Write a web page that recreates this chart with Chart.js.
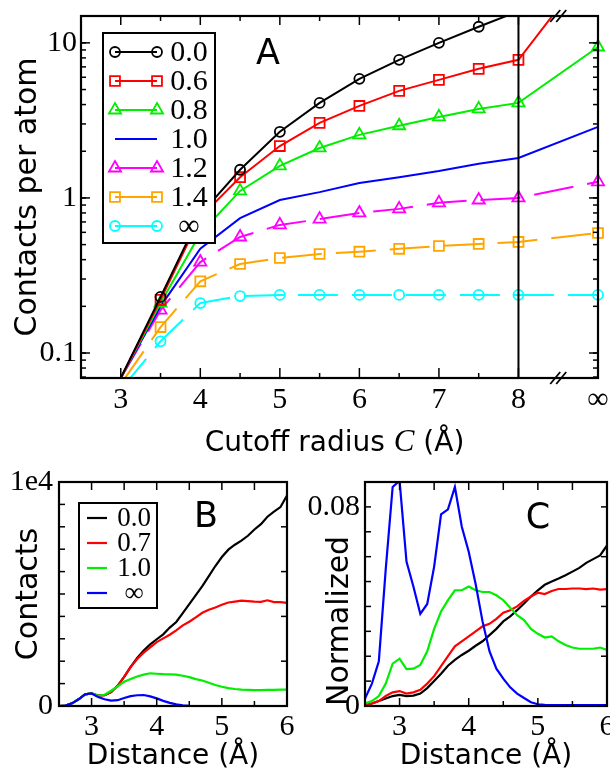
<!DOCTYPE html>
<html><head><meta charset="utf-8">
<script src="https://cdn.jsdelivr.net/npm/chart.js@4/dist/chart.umd.min.js"></script>
<style>
html,body{margin:0;padding:0;background:#fff;}
#wrap{position:relative;width:610px;height:777px;overflow:hidden;background:#fff;}
canvas{position:absolute;}
</style></head><body>
<div id="wrap">
<canvas id="cA" width="610" height="470" style="left:0;top:0;width:610px;height:470px"></canvas>
<canvas id="cB" width="300" height="307" style="left:0;top:470px;width:300px;height:307px"></canvas>
<canvas id="cC" width="310" height="307" style="left:300px;top:470px;width:310px;height:307px"></canvas>
</div>
<script>
// ---------------- Panel A data ----------------
// x positions of the cutoff radii; the last one (9) is where "∞" sits on the axis
const cutoffPositions = [3, 3.5, 4, 4.5, 5, 5.5, 6, 6.5, 7, 7.5, 8, 9];
const cutoffTickValues = [3, 4, 5, 6, 7, 8, 9];
const cutoffTickLabels = ['3', '4', '5', '6', '7', '8', '∞'];
const contactsTickValues = [0.1, 1, 10];
const contactsTickLabels = ['0.1', '1', '10'];
const seriesLabelsA = ['0.0', '0.6', '0.8', '1.0', '1.2', '1.4', '∞'];
const a00 = [0.069, 0.23, 0.78, 1.52, 2.67, 4.1, 5.86, 7.77, 10.0, 12.7, 16.0, 40];
const a06 = [0.069, 0.22, 0.75, 1.36, 2.16, 3.05, 3.92, 4.9, 5.77, 6.8, 7.77, 36];
const a08 = [0.069, 0.21, 0.59, 1.11, 1.61, 2.1, 2.55, 2.92, 3.33, 3.75, 4.1, 9.4];
const a10 = [0.069, 0.20, 0.47, 0.74, 0.97, 1.09, 1.25, 1.36, 1.49, 1.66, 1.81, 2.87];
const a12 = [0.069, 0.189, 0.386, 0.56, 0.67, 0.73, 0.80, 0.85, 0.93, 0.97, 1.0, 1.27];
const a14 = [0.063, 0.147, 0.29, 0.375, 0.41, 0.435, 0.45, 0.47, 0.49, 0.505, 0.52, 0.594];
const aInf = [0.058, 0.119, 0.21, 0.233, 0.237, 0.237, 0.237, 0.237, 0.237, 0.237, 0.237, 0.237];
const cutoffMarkerLine = 8;   // vertical line at C = 8 Å
const axisBreakAt = 8.5;      // "//" axis break between 8 and ∞

// ---------------- Panels B and C data ----------------
const distances = [2.5,2.6,2.7,2.8,2.9,3.0,3.1,3.2,3.3,3.4,3.5,3.6,3.7,3.8,3.9,4.0,4.1,4.2,4.3,4.4,4.5,4.6,4.7,4.8,4.9,5.0,5.1,5.2,5.3,5.4,5.5,5.6,5.7,5.8,5.9,6.0];
const distTickValues = [3, 4, 5, 6];
const seriesLabelsBC = ['0.0', '0.7', '1.0', '∞'];
const bBlack = [0,20,120,300,520,560,470,480,620,900,1300,1750,2150,2480,2750,2980,3200,3500,3750,4150,4550,4950,5350,5800,6250,6650,6980,7200,7380,7600,7880,8120,8450,8680,8880,9400];
const bRed   = [0,20,120,300,520,560,470,480,620,900,1300,1740,2100,2380,2620,2850,3020,3180,3380,3600,3760,3960,4160,4300,4400,4520,4620,4660,4700,4680,4660,4650,4720,4640,4640,4600];
const bGreen = [0,20,120,300,520,560,470,500,680,880,1080,1210,1320,1400,1460,1440,1420,1410,1400,1350,1290,1200,1140,1040,940,860,800,760,730,720,710,710,720,720,730,730];
const bBlue  = [0,20,120,300,520,560,400,300,240,260,360,440,480,490,430,340,230,140,70,30,10,0,0,0,0,0,0,0,0,0,0,0,0,0,0,0];
const contactsBTicks = [0, 10000];
const contactsBLabels = ['0', '1e4'];
const cBlack = [0.0005,0.001,0.002,0.003,0.004,0.0045,0.004,0.0042,0.005,0.0072,0.010,0.013,0.0162,0.0185,0.0205,0.0222,0.0242,0.026,0.0285,0.031,0.034,0.036,0.0385,0.0412,0.044,0.0465,0.0487,0.050,0.0512,0.0525,0.054,0.0555,0.0575,0.059,0.0605,0.0645];
const cRed   = [0.0005,0.001,0.002,0.004,0.0055,0.006,0.005,0.0055,0.0065,0.009,0.012,0.016,0.020,0.024,0.026,0.028,0.030,0.032,0.033,0.035,0.0375,0.0385,0.040,0.0422,0.044,0.0455,0.045,0.0462,0.047,0.047,0.0472,0.0472,0.047,0.0472,0.0468,0.047];
const cGreen = [0.001,0.002,0.004,0.009,0.017,0.019,0.0148,0.015,0.0165,0.022,0.031,0.038,0.0425,0.0465,0.0465,0.048,0.0465,0.0458,0.0458,0.0445,0.0425,0.0395,0.0365,0.0345,0.031,0.029,0.0275,0.028,0.026,0.0245,0.0235,0.023,0.023,0.023,0.0235,0.0225];
const cBlue  = [0.003,0.009,0.018,0.055,0.088,0.0905,0.058,0.048,0.037,0.041,0.056,0.077,0.079,0.088,0.072,0.062,0.049,0.034,0.022,0.015,0.011,0.0075,0.005,0.0032,0.0015,0.0007,0.0005,0.0004,0.0004,0.0004,0.0004,0.0004,0.0004,0.0004,0.0004,0.0004];
const normTicks = [0, 0.08];
const normLabels = ['0', '0.08'];

// ---------------- helpers ----------------
const SERIF = 'Liberation Serif';
const SANS = 'DejaVu Sans';
Chart.defaults.animation = false;
Chart.defaults.color = '#000';
Chart.defaults.font.family = SERIF;
Chart.defaults.plugins.legend.display = false;
Chart.defaults.plugins.tooltip.enabled = false;
Chart.defaults.events = [];

const pts = (xs, ys) => ys.map((y, i) => ({x: xs[i], y}));
function range(a, b, s) { const r = []; for (let v = a; v <= b + 1e-9; v += s) r.push(+v.toFixed(4)); return r; }
function logMinors(lo, hi) { const r = []; for (let d = 0.01; d <= 10; d *= 10) for (let k = 1; k <= 9; k++) { const v = +(k * d).toPrecision(3); if (v >= lo && v <= hi) r.push(v); } return r; }

function marker(ctx, style, x, y, r) {
  ctx.beginPath();
  if (style === 'circle') ctx.arc(x, y, r, 0, Math.PI * 2);
  else if (style === 'rect') { const s = r * Math.SQRT1_2; ctx.rect(x - s, y - s, 2 * s, 2 * s); }
  else if (style === 'triangle') {
    ctx.moveTo(x, y - r);
    ctx.lineTo(x + r * Math.sin(Math.PI * 2 / 3), y - r * Math.cos(Math.PI * 2 / 3));
    ctx.lineTo(x + r * Math.sin(Math.PI * 4 / 3), y - r * Math.cos(Math.PI * 4 / 3));
    ctx.closePath();
  }
  ctx.stroke();
}

// frame, inward tick marks, axis break, boxed legend, panel letter, mixed-font axis title
const deco = {
  id: 'deco',
  afterDatasetsDraw(chart, args, o) {
    const {ctx, chartArea: ca} = chart;
    ctx.save();
    ctx.strokeStyle = '#000';
    ctx.lineWidth = 1.5;
    (o.ticks || []).forEach(t => {
      const sc = chart.scales[t.scale];
      [[t.major || [], t.majorLen], [t.minor || [], t.minorLen]].forEach(([vals, len]) => {
        vals.forEach(v => {
          const p = sc.getPixelForValue(v);
          ctx.beginPath();
          if (t.side === 'bottom') { ctx.moveTo(p, ca.bottom); ctx.lineTo(p, ca.bottom - len); }
          if (t.side === 'top') { ctx.moveTo(p, ca.top); ctx.lineTo(p, ca.top + len); }
          if (t.side === 'left') { ctx.moveTo(ca.left, p); ctx.lineTo(ca.left + len, p); }
          if (t.side === 'right') { ctx.moveTo(ca.right, p); ctx.lineTo(ca.right - len, p); }
          ctx.stroke();
        });
      });
    });
    ctx.lineWidth = 2.2;
    ctx.strokeRect(ca.left, ca.top, ca.right - ca.left, ca.bottom - ca.top);
    if (o.breakAt !== undefined) {
      const p = chart.scales.x.getPixelForValue(o.breakAt);
      ctx.lineWidth = 1.8;
      [ca.top, ca.bottom].forEach(yy => {
        [-3, 3].forEach(d => { ctx.beginPath(); ctx.moveTo(p + d - 5, yy + 6); ctx.lineTo(p + d + 5, yy - 6); ctx.stroke(); });
      });
    }
    const L = o.legend;
    if (L) {
      ctx.fillStyle = '#fff';
      ctx.fillRect(L.x, L.y, L.w, L.h);
      ctx.lineWidth = 2;
      ctx.strokeStyle = '#000';
      ctx.strokeRect(L.x, L.y, L.w, L.h);
      L.items.forEach((it, i) => {
        const ds = chart.data.datasets[it.ds];
        const y = L.row0 + i * L.rowH;
        ctx.strokeStyle = ds.borderColor;
        ctx.lineWidth = ds.borderWidth;
        ctx.setLineDash([]);
        ctx.beginPath();
        ctx.moveTo(L.x1, y); ctx.lineTo(L.x2, y); ctx.stroke();
        if (ds.markerStyle) {
          ctx.lineWidth = ds.pointBorderWidth;
          marker(ctx, ds.markerStyle, L.x1, y, ds.markerRadius);
          marker(ctx, ds.markerStyle, L.x2, y, ds.markerRadius);
        }
        ctx.fillStyle = '#000';
        ctx.font = L.font;
        ctx.textAlign = 'center';
        ctx.textBaseline = 'middle';
        ctx.fillText(it.label, L.tx, y + 1);
      });
    }
    if (o.letter) {
      ctx.fillStyle = '#000';
      ctx.font = o.letter.font;
      ctx.textAlign = 'center';
      ctx.textBaseline = 'middle';
      ctx.fillText(o.letter.text, o.letter.x, o.letter.y);
    }
    if (o.xTitle) {
      const T = o.xTitle;
      ctx.fillStyle = '#000';
      ctx.textBaseline = 'alphabetic';
      ctx.textAlign = 'left';
      const widths = T.parts.map(p => { ctx.font = p.font; return ctx.measureText(p.text).width; });
      let x = (ca.left + ca.right) / 2 - widths.reduce((a, b) => a + b, 0) / 2 + (T.dx || 0);
      T.parts.forEach((p, i) => { ctx.font = p.font; ctx.fillText(p.text, x, T.baseline); x += widths[i]; });
    }
    ctx.restore();
  }
};

function fitY(w) { return s => { s.width = w; s.paddingTop = 0; s.paddingBottom = 0; }; }
function fitX(h) { return s => { s.height = h; s.paddingLeft = 0; s.paddingRight = 0; }; }
function setTicks(vals) { return s => { s.ticks = vals.map(v => ({value: v})); }; }

// ---------------- Panel A ----------------
function lineSetA(label, data, color, style, radius, dash) {
  return {
    label, data: pts(cutoffPositions, data),
    borderColor: color, backgroundColor: color, borderWidth: 2,
    borderDash: dash || [],
    pointStyle: style || 'circle', markerStyle: style, markerRadius: radius,
    pointRadius: c => (style && c.dataIndex > 0) ? radius : 0,
    pointBorderColor: color, pointBackgroundColor: 'rgba(0,0,0,0)', pointBorderWidth: 1.8,
    tension: 0, clip: {left: 0, top: 0, right: 9, bottom: 0}
  };
}
const DASH = [40, 14];
const yMinA = 0.069, yMaxA = 14.9;
new Chart(document.getElementById('cA'), {
  type: 'line',
  data: {
    datasets: [
      lineSetA(seriesLabelsA[0], a00, '#000000', 'circle', 5),
      lineSetA(seriesLabelsA[1], a06, '#ff0000', 'rect', 7),
      lineSetA(seriesLabelsA[2], a08, '#00ee00', 'triangle', 7),
      lineSetA(seriesLabelsA[3], a10, '#0000ff', null, 0),
      lineSetA(seriesLabelsA[4], a12, '#ff00ff', 'triangle', 7, DASH),
      lineSetA(seriesLabelsA[5], a14, '#ffa500', 'rect', 7, DASH),
      lineSetA(seriesLabelsA[6], aInf, '#00ffff', 'circle', 5, DASH),
      {label: 'C = 8', data: [{x: cutoffMarkerLine, y: yMinA}, {x: cutoffMarkerLine, y: yMaxA}],
       borderColor: '#000', borderWidth: 2, pointRadius: 0, order: -1}
    ]
  },
  options: {
    responsive: false, maintainAspectRatio: false,
    layout: {padding: {top: 16, right: 12, left: 0, bottom: 0}},
    scales: {
      x: {
        type: 'linear', min: 2.5, max: 9,
        afterBuildTicks: setTicks(cutoffTickValues), afterFit: fitX(92),
        grid: {display: false}, border: {display: false},
        ticks: {font: {family: SERIF, size: 30}, padding: -4, maxRotation: 0, autoSkip: false,
                callback: (v, i) => cutoffTickLabels[i]},
        title: {display: false}
      },
      y: {
        type: 'logarithmic', min: yMinA, max: yMaxA,
        afterBuildTicks: setTicks(contactsTickValues), afterFit: fitY(81),
        grid: {display: false}, border: {display: false},
        ticks: {font: {family: SERIF, size: 30}, padding: -4, autoSkip: false,
                callback: (v, i) => contactsTickLabels[i]},
        title: {display: true, text: 'Contacts per atom', font: {family: SANS, size: 30}, padding: {top: 10, bottom: 0}}
      }
    },
    plugins: {
      deco: {
        ticks: [
          {scale: 'x', side: 'bottom', major: range(3, 8, 1), minor: range(3.5, 7.5, 1), majorLen: 10, minorLen: 5},
          {scale: 'x', side: 'top', major: range(3, 8, 1), minor: range(3.5, 7.5, 1), majorLen: 9, minorLen: 5},
          {scale: 'y', side: 'left', major: contactsTickValues, minor: logMinors(yMinA, yMaxA), majorLen: 9, minorLen: 5},
          {scale: 'y', side: 'right', major: contactsTickValues, minor: logMinors(yMinA, yMaxA), majorLen: 9, minorLen: 5}
        ],
        breakAt: axisBreakAt,
        legend: {
          x: 103, y: 33, w: 112, h: 210, row0: 52, rowH: 29, x1: 115, x2: 157, tx: 189,
          font: '30px "' + SERIF + '"',
          items: seriesLabelsA.map((l, i) => ({ds: i, label: l}))
        },
        letter: {text: 'A', x: 268, y: 55, font: '35px "' + SANS + '"'},
        xTitle: {
          baseline: 451, dx: -5,
          parts: [
            {text: 'Cutoff radius ', font: '28px "' + SANS + '"'},
            {text: 'C', font: 'italic 31px "' + SERIF + '"'},
            {text: ' (Å)', font: '28px "' + SANS + '"'}
          ]
        }
      }
    }
  },
  plugins: [deco]
});

// ---------------- Panels B and C ----------------
function lineSetBC(label, data, color, order) {
  return {label, data: pts(distances, data), borderColor: color, borderWidth: 2.2, pointRadius: 0, tension: 0, order};
}
function bcOptions(o) {
  return {
    responsive: false, maintainAspectRatio: false,
    layout: {padding: {top: 12, right: o.padRight, left: 0, bottom: 0}},
    scales: {
      x: {
        type: 'linear', min: 2.5, max: 6,
        afterBuildTicks: setTicks(distTickValues), afterFit: fitX(71),
        grid: {display: false}, border: {display: false},
        ticks: {font: {family: SERIF, size: 30}, padding: -5, maxRotation: 0, autoSkip: false},
        title: {display: true, text: 'Distance (Å)', font: {family: SANS, size: 28}, padding: {top: 0, bottom: 3}}
      },
      y: {
        type: 'linear', min: o.yMin, max: o.yMax,
        afterBuildTicks: setTicks(o.yTicks), afterFit: fitY(o.yWidth),
        grid: {display: false}, border: {display: false},
        ticks: {font: {family: SERIF, size: 30}, padding: o.yPad, autoSkip: false, callback: (v, i) => o.yLabels[i]},
        title: {display: true, text: o.yTitle, align: o.titleAlign, font: {family: SANS, size: 30}, padding: {top: o.titlePad, bottom: 0}}
      }
    },
    plugins: {
      deco: {
        ticks: [
          {scale: 'x', side: 'bottom', major: distTickValues, minor: range(3.5, 5.5, 1), majorLen: 8, minorLen: 5},
          {scale: 'x', side: 'top', major: distTickValues, minor: range(3.5, 5.5, 1), majorLen: 8, minorLen: 8},
          {scale: 'y', side: 'left', major: o.yMajor, minor: o.yMinor, majorLen: 6, minorLen: 6},
          {scale: 'y', side: 'right', major: o.yMajor, minor: [], majorLen: 6, minorLen: 0}
        ],
        legend: o.legend,
        letter: o.letter
      }
    }
  };
}
new Chart(document.getElementById('cB'), {
  type: 'line',
  data: {datasets: [
    lineSetBC(seriesLabelsBC[0], bBlack, '#000000', 4),
    lineSetBC(seriesLabelsBC[1], bRed, '#ff0000', 3),
    lineSetBC(seriesLabelsBC[2], bGreen, '#00ee00', 2),
    lineSetBC(seriesLabelsBC[3], bBlue, '#0000ff', 1)
  ]},
  options: bcOptions({
    padRight: 13, yMin: 0, yMax: 10000, yTicks: contactsBTicks, yLabels: contactsBLabels, yWidth: 59, yPad: -2,
    yTitle: 'Contacts', titleAlign: 'center', titlePad: 11,
    yMajor: range(0, 10000, 2000), yMinor: range(1000, 9000, 2000),
    legend: {x: 79, y: 33, w: 78, h: 105, row0: 48, rowH: 25, x1: 87, x2: 107, tx: 134,
             font: '27px "' + SERIF + '"', items: seriesLabelsBC.map((l, i) => ({ds: i, label: l}))},
    letter: {text: 'B', x: 206, y: 48, font: '35px "' + SANS + '"'}
  }),
  plugins: [deco]
});
new Chart(document.getElementById('cC'), {
  type: 'line',
  data: {datasets: [
    lineSetBC(seriesLabelsBC[0], cBlack, '#000000', 4),
    lineSetBC(seriesLabelsBC[1], cRed, '#ff0000', 3),
    lineSetBC(seriesLabelsBC[2], cGreen, '#00ee00', 2),
    lineSetBC(seriesLabelsBC[3], cBlue, '#0000ff', 1)
  ]},
  options: bcOptions({
    padRight: 3, yMin: 0, yMax: 0.09, yTicks: normTicks, yLabels: normLabels, yWidth: 65, yPad: -3,
    yTitle: 'Normalized', titleAlign: 'start', titlePad: 22,
    yMajor: range(0, 0.08, 0.02), yMinor: range(0.01, 0.09, 0.02),
    legend: null,
    letter: {text: 'C', x: 238, y: 49, font: '35px "' + SANS + '"'}
  }),
  plugins: [deco]
});
</script>
</body></html>
